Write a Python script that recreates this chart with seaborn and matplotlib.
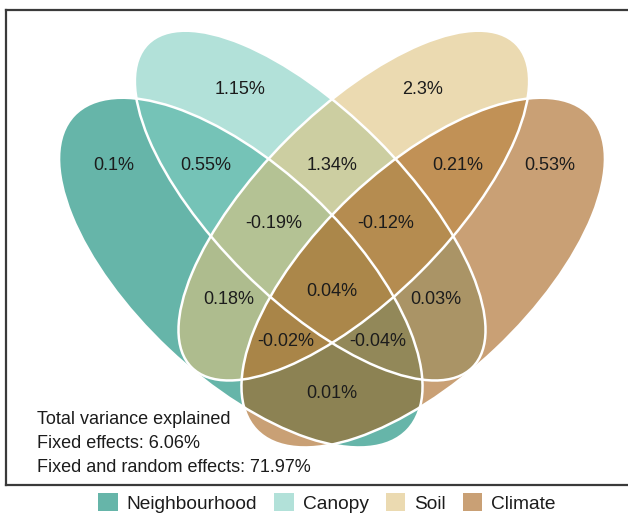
import matplotlib
matplotlib.use("Agg")
import matplotlib.pyplot as plt
from matplotlib.patches import Ellipse, Patch
import seaborn as sns

# Variance partitioning among the four predictor groups (percent of variance)
sets = ["Neighbourhood", "Canopy", "Soil", "Climate"]
set_colors = ["#018571", "#80CDC1", "#DFC27D", "#A6611A"]
region_keys = ["A", "B", "C", "D", "AB", "BC", "CD", "ABC", "BCD",
               "AC", "ABCD", "BD", "ACD", "ABD", "AD"]
region_values = [0.1, 1.15, 2.3, 0.53, 0.55, 1.34, 0.21, -0.19, -0.12,
                 0.18, 0.04, 0.03, -0.02, -0.04, 0.01]
summary_lines = ["Total variance explained",
                 "Fixed effects: 6.06%",
                 "Fixed and random effects: 71.97%"]

# Ellipse geometry in canvas units (x right, y down); the right pair mirrors the left pair
MIRROR_X = 664.0
outer = dict(center=(240.8, 272.6), a=229.2, b=105.2, angle=43.3)
inner = dict(center=(310.2, 205.6), a=229.1, b=94.0, angle=44.9)


def mirrored(e):
    return dict(center=(MIRROR_X - e["center"][0], e["center"][1]),
                a=e["a"], b=e["b"], angle=180.0 - e["angle"])


shapes = [outer, inner, mirrored(inner), mirrored(outer)]

# Label anchor for each region
label_pos = {
    "A": (114, 165), "B": (240, 89), "C": (423, 89), "D": (550, 165),
    "AB": (206, 165), "BC": (332, 165), "CD": (458, 165),
    "ABC": (274, 224), "BCD": (386, 224),
    "AC": (229, 299), "ABCD": (332, 291), "BD": (436, 299),
    "ACD": (286, 341), "ABD": (378, 341), "AD": (332, 393),
}

sns.set_theme(style="white")
plt.rcParams["font.family"] = ["Liberation Sans", "DejaVu Sans"]
palette = sns.color_palette(set_colors)

fig = plt.figure(figsize=(6.28, 5.15), dpi=100)
ax = fig.add_axes([6 / 628, 30 / 515, 634 / 628, 475 / 515])
ax.set_xlim(6, 640)
ax.set_ylim(485, 10)
ax.set_xticks([])
ax.set_yticks([])
for sp in ax.spines.values():
    sp.set_visible(True)
    sp.set_color("#3a3a3a")
    sp.set_linewidth(1.6)

# translucent fills, stacked in set order
for e, col in zip(shapes, palette):
    ax.add_patch(Ellipse(e["center"], 2 * e["a"], 2 * e["b"], angle=e["angle"],
                         facecolor=col, alpha=0.6, edgecolor="none", zorder=1))
# white outlines above all fills
for e in shapes:
    ax.add_patch(Ellipse(e["center"], 2 * e["a"], 2 * e["b"], angle=e["angle"],
                         facecolor="none", edgecolor="white", lw=1.8, zorder=2))

for key, val in zip(region_keys, region_values):
    x, y = label_pos[key]
    ax.text(x, y, f"{val:g}%", ha="center", va="center", fontsize=13,
            color="#1c1c1c", zorder=3)

for i, line in enumerate(summary_lines):
    ax.text(37, 420 + 23.5 * i, line, ha="left", va="center", fontsize=13,
            color="#1c1c1c", zorder=3)

handles = [Patch(facecolor=c, alpha=0.6, edgecolor="none", label=s)
           for s, c in zip(sets, palette)]
fig.legend(handles=handles, loc="center", bbox_to_anchor=(327 / 628, 1 - 503 / 515),
           ncol=4, frameon=False, fontsize=13.8, handlelength=1.0, handleheight=1.0,
           handletextpad=0.47, columnspacing=0.9, borderpad=0.0, labelcolor="#1c1c1c")

fig.savefig("out.png", dpi=100)
